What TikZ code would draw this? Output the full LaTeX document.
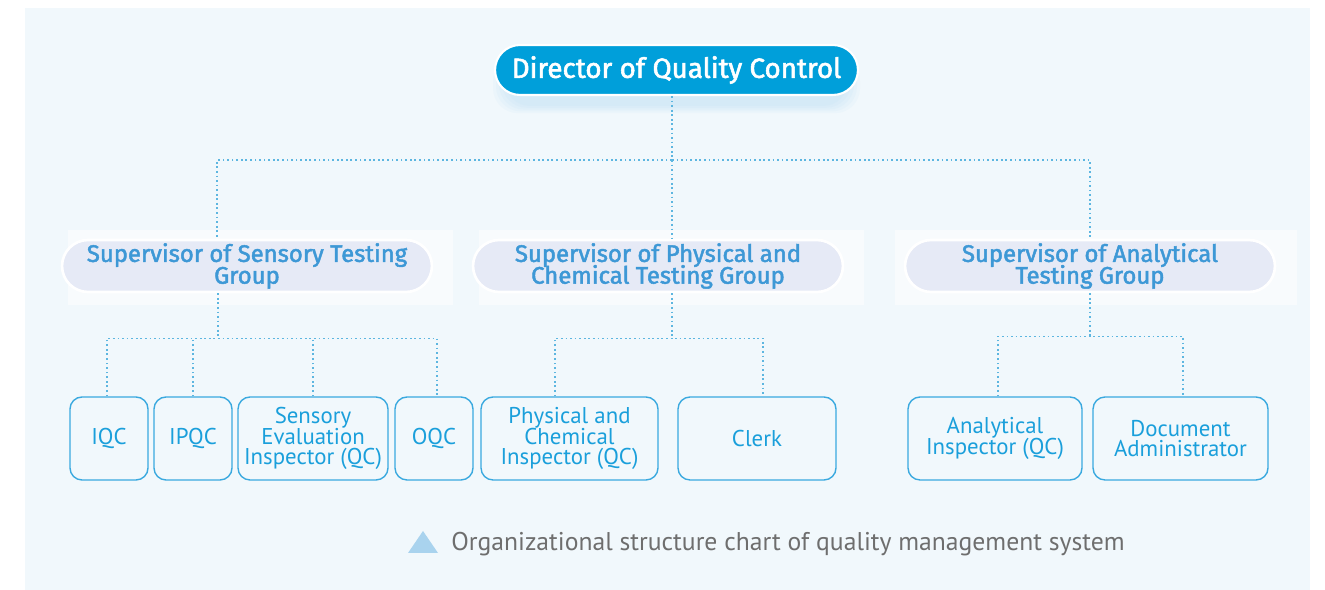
\documentclass[tikz,border=0pt]{standalone}
\usepackage{fontspec}
\setmainfont{PT Sans}
\newfontfamily\hdfont{Fira Sans}[AutoFakeBold=2]
\newcommand\mytightlines{\lineskiplimit=-20pt\relax}
\usetikzlibrary{calc}
\definecolor{panel}{HTML}{F1F8FC}
\definecolor{dirblue}{HTML}{009FDA}
\definecolor{supfill}{HTML}{E6EAF6}
\definecolor{suptext}{HTML}{3D98D6}
\definecolor{leafline}{HTML}{3AA9DF}
\definecolor{leaftext}{HTML}{1A9FDB}
\definecolor{connc}{HTML}{5DB6E0}
\definecolor{captext}{HTML}{6E6E6E}
\definecolor{tri}{HTML}{A9D3EE}
\definecolor{shadowc}{HTML}{8CCBEB}
\tikzset{
  connector/.style={draw=connc, line width=0.8pt, dash pattern=on 1pt off 1.6pt},
  dirbox/.style={fill=dirblue, draw=white, line width=1.2pt, rounded corners=0.5cm,
    minimum width=7.26cm, minimum height=1.0cm, text=white, inner sep=0pt,
    font=\hdfont\fontsize{15.8}{17}\selectfont\bfseries},
  softshadow/.style={fill=shadowc, opacity=0.06},
  supbox/.style={fill=supfill, draw=white, line width=1.5pt, rounded corners=0.52cm,
    minimum width=7.4cm, minimum height=1.04cm, text=suptext, inner sep=0pt,
    align=center, font=\mytightlines\hdfont\fontsize{13.6}{12.4}\selectfont\bfseries},
  supback/.style={fill=white, opacity=0.5},
  leafbox/.style={fill=panel, draw=leafline, line width=0.8pt, rounded corners=0.24cm,
    minimum height=1.66cm, text=leaftext, inner sep=0pt, align=center,
    font=\mytightlines\fontsize{13}{11.8}\selectfont},
}
\begin{document}
\begin{tikzpicture}[x=0.02cm, y=-0.02cm]
\useasboundingbox (0,0) rectangle (1325,590);
\fill[white] (0,0) rectangle (1325,590);
\fill[panel] (25,8) rectangle (1310,590);

% soft shadow of director
\foreach \d in {0,3,6,9,12}{
  \fill[softshadow, rounded corners=0.5cm] (505-\d,60-\d*0.3) rectangle (848+\d,106+\d*0.6);
}

% back plates of supervisors
\fill[supback] (68,230) rectangle (453,305);
\fill[supback] (479,230) rectangle (864,305);
\fill[supback] (895,230) rectangle (1297,305);

% nodes
\node[dirbox] (dir) at (676.5,70) {Director of Quality Control};
\node[supbox] (sens) at (247,266) {Supervisor of Sensory Testing\\Group};
\node[supbox] (phys) at (658,266) {Supervisor of Physical and\\Chemical Testing Group};
\node[supbox] (anal) at (1090,266) {Supervisor of Analytical\\Testing Group};

\node[leafbox, minimum width=1.56cm] (iqc) at (109,438.5) {IQC};
\node[leafbox, minimum width=1.56cm] (ipqc) at (193,438.5) {IPQC};
\node[leafbox, minimum width=3.0cm] (sei) at (313,438.5) {Sensory\\Evaluation\\Inspector (QC)};
\node[leafbox, minimum width=1.56cm] (oqc) at (434,438.5) {OQC};
\node[leafbox, minimum width=3.54cm] (pci) at (569.5,438.5) {Physical and\\Chemical\\Inspector (QC)};
\node[leafbox, minimum width=3.16cm] (clerk) at (757,438.5) {Clerk};
\node[leafbox, minimum width=3.48cm] (ai) at (995,438.5) {Analytical\\Inspector (QC)};
\node[leafbox, minimum width=3.5cm] (da) at (1180.5,438.5) {Document\\Administrator};

% top level connectors
\coordinate (bus0) at (672,160);
\draw[connector] ($(dir.south)+(-4.5,0)$) -- (bus0);
\draw[connector] (bus0) -| ($(sens.north)+(-30,0)$);
\draw[connector] (bus0) -| (anal.north);
\draw[connector] (bus0) -- ($(phys.north)+(14,0)$);

% sensory group
\draw[connector] ($(sens.south)+(-29,0)$) -- ++(0,45) coordinate (busS);
\draw[connector] ($(iqc.north)+(-2,0)$) |- (busS) -| ($(oqc.north)+(3,0)$);
\draw[connector] (ipqc.north) -- (ipqc.north |- busS);
\draw[connector] (sei.north) -- (sei.north |- busS);

% physical group
\draw[connector] ($(phys.south)+(14,0)$) -- ++(0,45) coordinate (busP);
\draw[connector] ($(pci.north)+(-14.5,0)$) |- (busP) -| ($(clerk.north)+(6,0)$);

% analytical group
\draw[connector] (anal.south) -- ++(0,43) coordinate (busA);
\draw[connector] ($(ai.north)+(3,0)$) |- (busA) -| ($(da.north)+(2.5,0)$);

% caption
\fill[tri] (408,553) -- (438,553) -- (423,531) -- cycle;
\node[anchor=west, text=captext, inner sep=0pt, font=\fontsize{14.6}{16}\selectfont] (cap) at (451,544) {Organizational structure chart of quality management system};
\end{tikzpicture}
\end{document}
